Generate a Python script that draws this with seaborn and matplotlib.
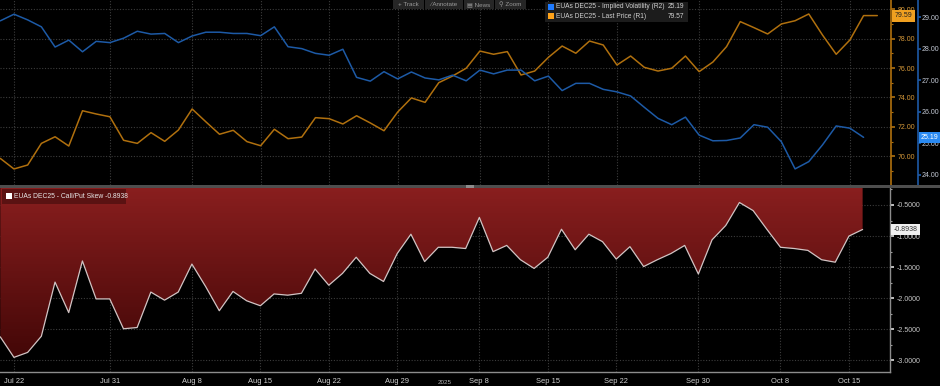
import numpy as np
import pandas as pd
import seaborn as sns
import matplotlib.pyplot as plt
from matplotlib.patches import Rectangle
from matplotlib.ticker import FormatStrFormatter, MultipleLocator

# business days shown on the chart (weekends dropped)
dates = pd.bdate_range('2025-07-21', '2025-10-17')

last_price = [69.86, 69.14, 69.41, 70.88, 71.33, 70.70, 73.10, 72.88, 72.69, 71.09,
              70.88, 71.61, 71.02, 71.79, 73.22, 72.35, 71.50, 71.77, 71.00, 70.72,
              71.84, 71.20, 71.31, 72.63, 72.56, 72.20, 72.76, 72.27, 71.74, 73.01,
              73.97, 73.67, 75.01, 75.46, 75.99, 77.16, 76.94, 77.12, 75.53, 75.80,
              76.73, 77.50, 77.01, 77.84, 77.57, 76.21, 76.82, 76.05, 75.80, 75.99,
              76.82, 75.76, 76.41, 77.46, 79.16, 78.75, 78.32, 79.00, 79.22, 79.68,
              78.25, 76.94, 77.91, 79.57, 79.57]

impl_vol = [28.88, 29.09, 28.91, 28.69, 28.05, 28.27, 27.90, 28.23, 28.19, 28.33,
            28.55, 28.46, 28.48, 28.19, 28.40, 28.52, 28.52, 28.48, 28.48, 28.41,
            28.69, 28.06, 28.00, 27.85, 27.79, 27.98, 27.09, 26.97, 27.27, 27.04,
            27.26, 27.07, 27.01, 27.16, 26.98, 27.32, 27.20, 27.32, 27.32, 26.98,
            27.13, 26.67, 26.90, 26.90, 26.71, 26.63, 26.50, 26.14, 25.79, 25.59,
            25.83, 25.26, 25.08, 25.09, 25.17, 25.59, 25.51, 25.05, 24.19, 24.42,
            24.95, 25.55, 25.48, 25.19]

skew = [-2.62, -2.95, -2.87, -2.61, -1.74, -2.23, -1.40, -2.01, -2.01, -2.49,
        -2.47, -1.90, -2.03, -1.90, -1.45, -1.81, -2.20, -1.89, -2.04, -2.12,
        -1.93, -1.95, -1.92, -1.53, -1.79, -1.60, -1.34, -1.60, -1.73, -1.28,
        -0.97, -1.41, -1.18, -1.18, -1.20, -0.70, -1.25, -1.15, -1.38, -1.52,
        -1.34, -0.89, -1.22, -0.97, -1.09, -1.37, -1.17, -1.49, -1.38, -1.28,
        -1.15, -1.61, -1.06, -0.83, -0.46, -0.59, -0.89, -1.18, -1.20, -1.23,
        -1.38, -1.42, -1.00, -0.8938]

tick_days = ['2025-07-22', '2025-07-31', '2025-08-08', '2025-08-15', '2025-08-22', '2025-08-29',
             '2025-09-08', '2025-09-15', '2025-09-22', '2025-09-30', '2025-10-08', '2025-10-15']
tick_labels = ['Jul 22', 'Jul 31', 'Aug 8', 'Aug 15', 'Aug 22', 'Aug 29',
               'Sep 8', 'Sep 15', 'Sep 22', 'Sep 30', 'Oct 8', 'Oct 15']

px = pd.DataFrame({'i': np.arange(len(last_price)), 'price': last_price})
iv = pd.DataFrame({'i': np.arange(len(impl_vol)), 'vol': impl_vol})
sk = pd.DataFrame({'i': np.arange(len(skew)), 'skew': skew})
tick_pos = dates.get_indexer(pd.to_datetime(tick_days))

ORANGE = '#b0700e'
BLUE = '#1d5aa6'
GRID = '#3c3c3c'
FS = 5.0

sns.set_style('dark', {'axes.facecolor': 'black', 'figure.facecolor': 'black',
                       'axes.edgecolor': '#888888', 'grid.color': GRID})
plt.rcParams['font.family'] = ['Liberation Sans Narrow', 'Liberation Sans', 'DejaVu Sans']
plt.rcParams['font.size'] = FS

W, H = 940, 386
fig = plt.figure(figsize=(W / 100, H / 100), dpi=100)


def fx(x):
    return x / W


def fy(y):
    return 1 - y / H


ax1 = fig.add_axes([0, fy(185), fx(891), 185 / H])
ax3 = fig.add_axes([0, fy(372), fx(890), (372 - 188) / H])
XMIN, XMAX = -0.02, 65.0

# ---- top panel: price (R1) and implied vol (R2)
sns.lineplot(data=px, x='i', y='price', ax=ax1, color=ORANGE, lw=1.1)
ax2 = ax1.twinx()
sns.lineplot(data=iv, x='i', y='vol', ax=ax2, color=BLUE, lw=1.1)

ax1.set_xlim(XMIN, XMAX)
ax1.set_ylim(68.05, 80.63)
ax2.set_ylim(23.68, 29.54)
ax1.set_xlabel('')
ax1.set_ylabel('')
ax2.set_ylabel('')

ax1.yaxis.tick_right()
ax1.set_yticks(np.arange(70, 81, 2))
ax1.yaxis.set_minor_locator(MultipleLocator(1))
ax1.yaxis.set_major_formatter(FormatStrFormatter('%.2f'))
ax1.tick_params(axis='y', which='major', colors=ORANGE, labelcolor='#d89a3a',
                length=3, width=1.2, pad=1.5, labelsize=FS)
ax1.tick_params(axis='y', which='minor', colors=ORANGE, length=1.5, width=0.8)
ax1.set_xticks(tick_pos)
ax1.tick_params(axis='x', length=0, labelbottom=False)
ax1.grid(True, color=GRID, ls=(0, (1, 1.5)), lw=0.8)
for s in ['left', 'top', 'bottom']:
    ax1.spines[s].set_visible(False)
ax1.spines['right'].set_color(ORANGE)
ax1.spines['right'].set_linewidth(1.2)

# blue axis line sits 27 px right of the orange one (outward is in points)
ax2.spines['right'].set_position(('outward', 27 * 0.72))
ax2.spines['right'].set_color(BLUE)
ax2.spines['right'].set_linewidth(1.2)
for s in ['left', 'top', 'bottom']:
    ax2.spines[s].set_visible(False)
ax2.set_yticks(np.arange(24, 30, 1))
ax2.yaxis.set_major_formatter(FormatStrFormatter('%.2f'))
ax2.tick_params(axis='y', colors=BLUE, labelcolor='#c4cad6', length=2, width=1.2,
                pad=0.8, labelsize=FS)
ax2.grid(False)

ax1.annotate('79.59', xy=(1, 79.57), xycoords=('axes fraction', 'data'),
             xytext=(2.5, 0), textcoords='offset points', ha='left', va='center',
             fontsize=FS, color='#202020',
             bbox=dict(boxstyle='square,pad=0.35', fc='#f0a020', ec='none'))
ax2.annotate('25.19', xy=(1, 25.19), xycoords=('axes fraction', 'data'),
             xytext=(21.5, 0), textcoords='offset points', ha='left', va='center',
             fontsize=FS, color='white',
             bbox=dict(boxstyle='square,pad=0.25', fc='#2a8af2', ec='none'))

# ---- bottom panel: call/put skew with red gradient above the line
YTOP, YBOT = -0.227, -3.185
sns.lineplot(data=sk, x='i', y='skew', ax=ax3, color='#d2c4c4', lw=0.9, zorder=4)
poly = ax3.fill_between(sk['i'], sk['skew'], YTOP, facecolor='none', edgecolor='none')
k = np.linspace(0, 1, 256)[:, None, None]
top_c = np.array([0.54, 0.12, 0.12])
bot_c = np.array([0.24, 0.02, 0.02])
grad = top_c * (1 - k) + bot_c * k
im = ax3.imshow(grad, extent=[0, len(skew) - 1, YBOT, YTOP], aspect='auto',
                origin='upper', zorder=2)
im.set_clip_path(poly.get_paths()[0], transform=ax3.transData)

ax3.set_xlim(XMIN, XMAX)
ax3.set_ylim(YBOT, YTOP)
ax3.set_xlabel('')
ax3.set_ylabel('')
ax3.yaxis.tick_right()
ax3.set_yticks(np.arange(-3.0, -0.49, 0.5))
ax3.yaxis.set_minor_locator(MultipleLocator(0.25))
ax3.yaxis.set_major_formatter(FormatStrFormatter('%.4f'))
ax3.tick_params(axis='y', which='major', colors='#e0e0e0', labelcolor='#c8c8c8',
                length=3, width=1.2, pad=1.5, labelsize=FS)
ax3.tick_params(axis='y', which='minor', colors='#a0a0a0', length=1.5, width=0.8)
ax3.set_xticks(tick_pos)
ax3.set_xticklabels(tick_labels)
ax3.set_xticks(np.arange(len(dates)), minor=True)
ax3.tick_params(axis='x', which='major', colors='#a0a0a0', labelcolor='#d0d0d0',
                length=3, width=0.8, pad=1.5, labelsize=5.4)
ax3.tick_params(axis='x', which='minor', colors='#8a8a8a', length=1.5, width=0.6)
ax3.grid(True, color=GRID, ls=(0, (1, 1.5)), lw=0.8)
ax3.set_axisbelow(True)
for s in ['left', 'top']:
    ax3.spines[s].set_visible(False)
for s in ['right', 'bottom']:
    ax3.spines[s].set_color('#8c8c8c')
    ax3.spines[s].set_linewidth(1.0)

ax3.annotate('-0.8938', xy=(1, -0.8938), xycoords=('axes fraction', 'data'),
             xytext=(2.5, 0), textcoords='offset points', ha='left', va='center',
             fontsize=FS, color='#303030',
             bbox=dict(boxstyle='square,pad=0.3', fc='#f0f0f0', ec='none'))

# ---- chrome: separator, toolbar, legends
fig.add_artist(Rectangle((0, fy(188)), 1, 3 / H, transform=fig.transFigure,
                         fc='#4e4e4e', ec='none'))
fig.add_artist(Rectangle((fx(466), fy(188)), 8 / W, 3 / H, transform=fig.transFigure,
                         fc='#8c8c8c', ec='none'))

for x0, x1, label in [(393, 424, '+ Track'), (425, 463, '\u2215 Annotate'),
                      (464, 494, '\u25a4 News'), (495, 526, '\u26b2 Zoom')]:
    fig.add_artist(Rectangle((fx(x0), fy(9)), (x1 - x0) / W, 9 / H,
                             transform=fig.transFigure, fc='#262626', ec='none'))
    fig.text(fx((x0 + x1) / 2), fy(4.5), label, ha='center', va='center',
             fontsize=4.5, color='#9a9a9a')

fig.add_artist(Rectangle((fx(545), fy(22)), (688 - 545) / W, 20 / H,
                         transform=fig.transFigure, fc='#1c1c1c', ec='none'))
for yy, col, name, val in [(7, '#1f7bff', 'EUAs DEC25 - Implied Volatility (R2)', '25.19'),
                           (16, '#ffa31a', 'EUAs DEC25 - Last Price (R1)', '79.57')]:
    fig.add_artist(Rectangle((fx(548), fy(yy + 3)), 6 / W, 6 / H,
                             transform=fig.transFigure, fc=col, ec='none'))
    fig.text(fx(556), fy(yy), name, ha='left', va='center', fontsize=4.8, color='#d0d0d0')
    fig.text(fx(684), fy(yy), val, ha='right', va='center', fontsize=4.8, color='#d0d0d0')

fig.add_artist(Rectangle((fx(2), fy(204)), (126 - 2) / W, 15 / H,
                         transform=fig.transFigure, fc='#5a1212', ec='none', zorder=5))
fig.add_artist(Rectangle((fx(6), fy(199.5)), 6 / W, 6 / H,
                         transform=fig.transFigure, fc='white', ec='none', zorder=6))
fig.text(fx(14), fy(196.5), 'EUAs DEC25 - Call/Put Skew -0.8938', ha='left', va='center',
         fontsize=4.9, color='#e6e6e6', zorder=6)

fig.text(fx(445), fy(379.5), '2025', ha='center', va='top', fontsize=4.5, color='#b0b0b0')

fig.savefig('out.png', dpi=100, facecolor='black')
